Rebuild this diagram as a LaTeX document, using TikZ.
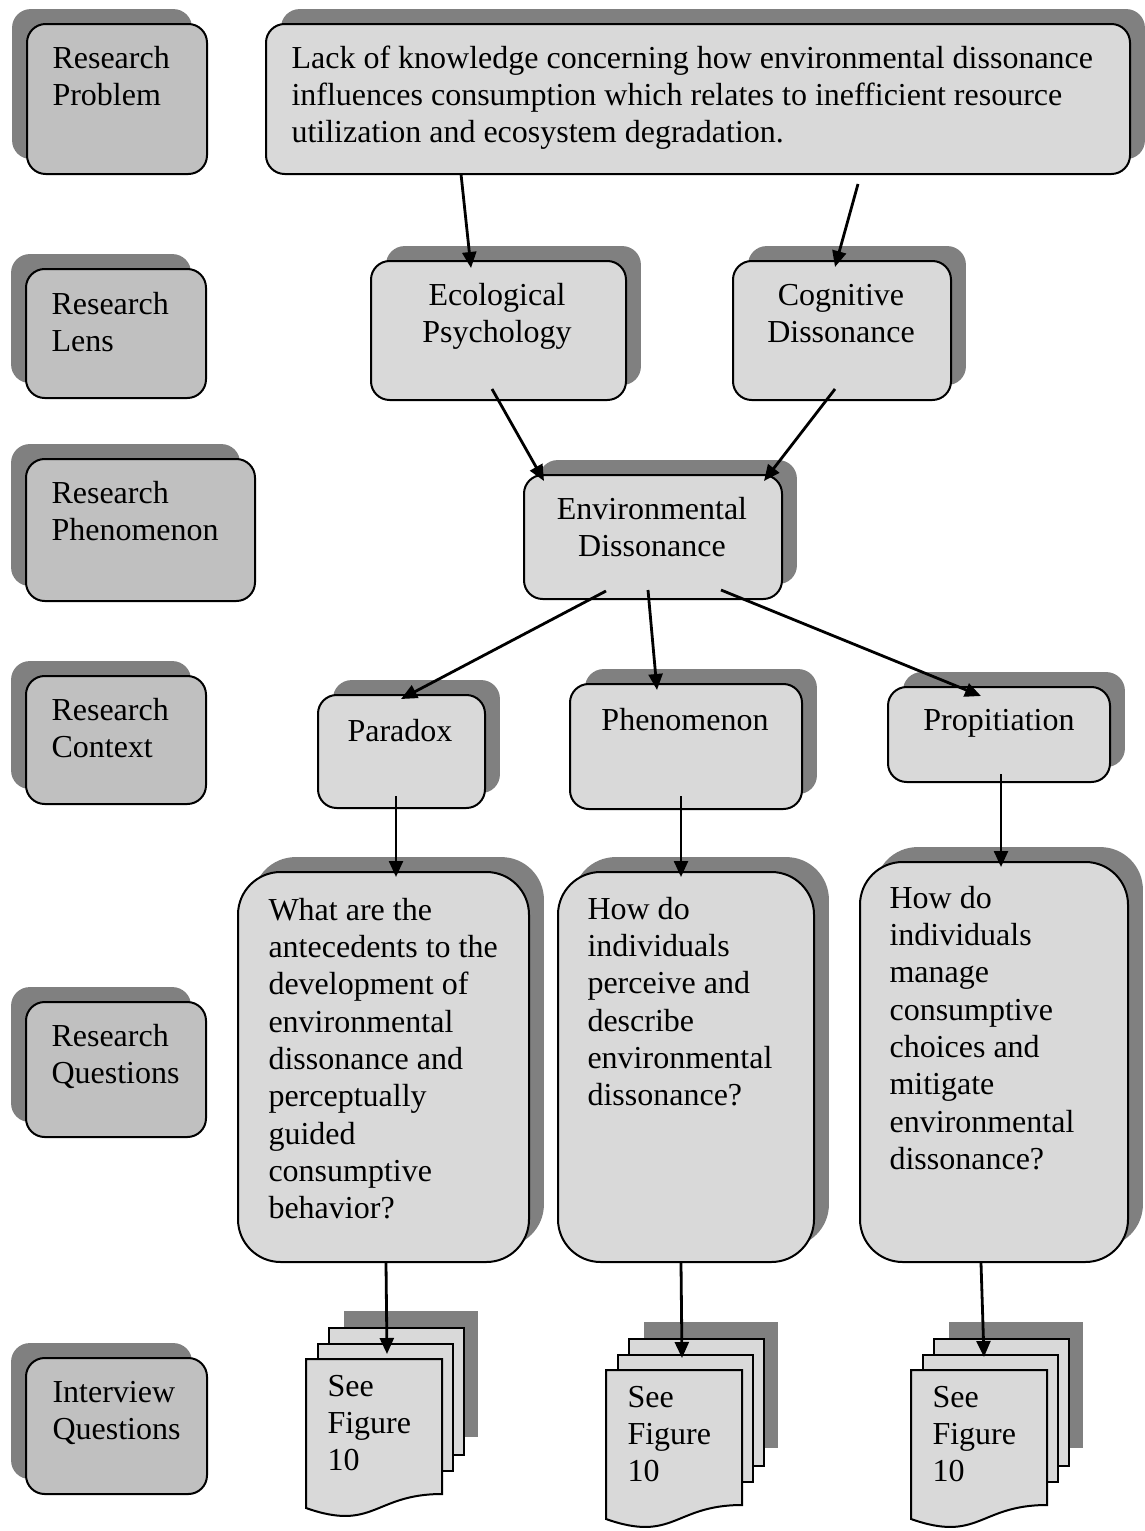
\documentclass[tikz,border=0pt]{standalone}
\usepackage{fontspec}
\setmainfont{Liberation Serif}
\usetikzlibrary{arrows.meta,calc,fit,shadows}
\definecolor{lblgray}{RGB}{192,192,192}
\definecolor{boxgray}{RGB}{217,217,217}
\definecolor{shadowgray}{RGB}{128,128,128}

\begin{document}
\begin{tikzpicture}[x=0.375pt,y=-0.375pt]
\tikzset{
  lblbox/.style={draw=black,line width=0.75pt,fill=lblgray,rounded corners=7pt,inner sep=0pt,
    general shadow={fill=shadowgray,shadow xshift=-5.6pt,shadow yshift=5.6pt}},
  topicbox/.style={draw=black,line width=0.75pt,fill=boxgray,rounded corners=7pt,inner sep=0pt,
    general shadow={fill=shadowgray,shadow xshift=5.6pt,shadow yshift=5.6pt}},
  askbox/.style={topicbox,rounded corners=16pt},
  page/.style={draw=black,line width=0.75pt,fill=boxgray,inner sep=0pt,minimum width=50.6pt,minimum height=47.6pt,anchor=north west},
  boxtext/.style={inner sep=0pt,font=\fontsize{12}{14}\selectfont,text width=#1,align=left,anchor=base west,
    execute at begin node={\spaceskip=3pt plus 1pt\relax}},
  midtext/.style={boxtext=#1,align=center,anchor=base},
  link/.style={draw=black,line width=1.05pt,-{Triangle[length=6pt,width=5.2pt]}}
}
\useasboundingbox (0,0) rectangle (1144,1531);

\node[lblbox,fit={(27,24) (207,174)}] (lbl_prob) {};
\node[lblbox,fit={(26,269) (206,398)}] (lbl_lens) {};
\node[lblbox,fit={(26,459) (255,601)}] (lbl_phen) {};
\node[lblbox,fit={(26,676) (206,804)}] (lbl_ctx) {};
\node[lblbox,fit={(26,1002) (206,1137)}] (lbl_rq) {};
\node[lblbox,fit={(26,1358) (207,1494)}] (lbl_iq) {};
\node[boxtext=70pt] (t_prob) at (52,68) {Research\\Problem};
\node[boxtext=70pt] (t_lens) at (51,314) {Research\\Lens};
\node[boxtext=80pt] (t_phen) at (51,503) {Research\\Phenomenon};
\node[boxtext=70pt] (t_ctx) at (51,720) {Research\\Context};
\node[boxtext=70pt] (t_rq) at (51,1046) {Research\\Questions};
\node[boxtext=70pt] (t_iq) at (52,1402) {Interview\\Questions};

\node[topicbox,fit={(266,24) (1130,174)}] (prob) {};
\node[topicbox,fit={(371,261) (626,400)}] (eco) {};
\node[topicbox,fit={(733,261) (951,400)}] (cog) {};
\node[topicbox,fit={(524,475) (782,599)}] (env) {};
\node[topicbox,fit={(318,695) (485,808)}] (par) {};
\node[topicbox,fit={(570,684) (802,809)}] (phen) {};
\node[topicbox,fit={(888,687) (1110,782)}] (prop) {};
\node[askbox,fit={(238,872) (529,1262)}] (q1) {};
\node[askbox,fit={(558,872) (814,1262)}] (q2) {};
\node[askbox,fit={(860,862) (1128,1262)}] (q3) {};

\node[boxtext=310pt] (t_problem) at (291,68) {Lack of knowledge concerning how environmental dissonance\\influences consumption which relates to inefficient resource\\utilization and ecosystem degradation.};
\node[midtext=90pt] (t_eco) at (497,305) {Ecological\\Psychology};
\node[midtext=90pt] (t_cog) at (841,305) {Cognitive\\Dissonance};
\node[midtext=90pt] (t_env) at (652,519) {Environmental\\Dissonance};
\node[midtext=60pt] (t_par) at (400,741) {Paradox};
\node[midtext=80pt] (t_phenom) at (685,730) {Phenomenon};
\node[midtext=80pt] (t_prop) at (999,730) {Propitiation};
\node[boxtext=95pt] (t_q1) at (268,920) {What are the\\antecedents to the\\development of\\environmental\\dissonance and\\perceptually\\guided\\consumptive\\behavior?};
\node[boxtext=80pt] (t_q2) at (587,919) {How do\\individuals\\perceive and\\describe\\environmental\\dissonance?};
\node[boxtext=80pt] (t_q3) at (889,908) {How do\\individuals\\manage\\consumptive\\choices and\\mitigate\\environmental\\dissonance?};

\foreach \n/\dx/\dy in {1/0/0,2/300/11,3/605/11}{
  \begin{scope}[shift={(\dx,\dy)}]
    \fill[shadowgray] (344,1311) rectangle (478,1437);
    \node[page] (back\n) at (328,1327) {};
    \node[page] (mid\n) at (317,1343) {};
    \draw[draw=black,line width=0.75pt,fill=boxgray] (306,1359) -- (442,1359) -- (442,1494)
      .. controls (374,1494) and (374,1532) .. (306,1508) -- cycle;
    \node[boxtext=50pt] (t_see\n) at (327,1396) {See\\Figure\\10};
  \end{scope}
}

\draw[link] ($(prob.south west)+(196,-1)$) -- ($(eco.north west)+(101,8)$);
\draw[link] ($(prob.south west)+(593,9)$) -- ($(cog.north west)+(103,7)$);
\draw[link] ($(eco.south west)+(122,-12)$) -- ($(env.north west)+(21,7)$);
\draw[link] ($(cog.south west)+(103,-12)$) -- ($(env.north west)+(241,7)$);
\draw[link] ($(env.south west)+(83,-9)$) -- ($(par.north west)+(84,5)$);
\draw[link] ($(env.south west)+(125,-10)$) -- ($(phen.north west)+(88,7)$);
\draw[link] ($(env.south west)+(198,-10)$) -- ($(prop.north west)+(94,10)$);
\draw[link] ($(par.south west)+(79,-13)$) -- ($(q1.north west)+(159,6)$);
\draw[link] ($(phen.south west)+(112,-14)$) -- ($(q2.north west)+(124,6)$);
\draw[link] ($(prop.south west)+(114,-9)$) -- ($(q3.north west)+(142,6)$);
\draw[link] ($(q1.south west)+(149,0)$) -- ($(mid1.north west)+(70,11)$);
\draw[link] ($(q2.south west)+(124,0)$) -- ($(mid2.north west)+(65,4)$);
\draw[link] ($(q3.south west)+(122,0)$) -- ($(mid3.north west)+(62,3)$);
\end{tikzpicture}
\end{document}
